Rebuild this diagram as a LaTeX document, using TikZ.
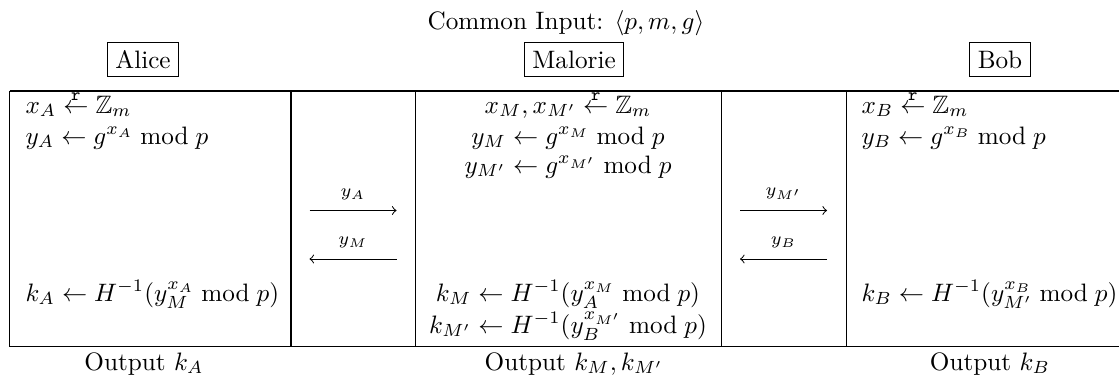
\documentclass[tikz,border=0pt]{standalone}
\usepackage{amsmath,amssymb}
\newcommand{\rndfrom}{\mathrel{\mathop{\leftarrow}\limits^{\raisebox{-2pt}{$\scriptstyle\mathtt{r}$}}}}
\tikzset{
  ltxt/.style={inner sep=0pt, anchor=base west},
  ctxt/.style={inner sep=0pt, anchor=base},
  party/.style={draw, line width=0.4pt, inner sep=3.2pt, anchor=base},
  tabrule/.style={line width=0.4pt},
  msg/.style={->, line width=0.4pt},
  msglbl/.style={above, inner sep=4pt}
}
\begin{document}
\begin{tikzpicture}[x=0.39683pt, y=-0.39683pt]
\useasboundingbox (0,0) rectangle (1119,379);
% header
\node[ctxt] (common) at (566,29) {Common Input: $\langle p, m, g\rangle$};
\node[party] (alice) at (143,68.3) {Alice};
\node[party] (malorie) at (574,68.3) {Malorie};
\node[party] (bob) at (1000,68.3) {Bob};
% table rules
\coordinate (tl) at (9.6,91);
\coordinate (tr) at (1119,91);
\coordinate (bl) at (9.6,346.7);
\coordinate (br) at (1119,346.7);
\coordinate (c1t) at (291,91);  \coordinate (c1b) at (291,346.7);
\coordinate (c2t) at (415,91);  \coordinate (c2b) at (415,346.7);
\coordinate (c3t) at (721,91);  \coordinate (c3b) at (721,346.7);
\coordinate (c4t) at (846,91);  \coordinate (c4b) at (846,346.7);
\draw[tabrule] (tl) -- (tr);
\draw[tabrule] (bl) -- (br);
\draw[tabrule] (tl) -- (bl);
\draw[tabrule] (c1t) -- (c1b);
\draw[tabrule] (c2t) -- (c2b);
\draw[tabrule] (c3t) -- (c3b);
\draw[tabrule] (c4t) -- (c4b);
% Alice column
\node[ltxt] (a1) at (25,113) {$x_A \rndfrom \mathbb{Z}_m$};
\node[ltxt] (a2) at (25,144) {$y_A \leftarrow g^{x_A} \bmod p$};
\node[ltxt] (a3) at (25,301) {$k_A \leftarrow H^{-1}(y_M^{x_A} \bmod p)$};
% Malorie column
\node[ctxt] (m1) at (568,113) {$x_M, x_{M'} \rndfrom \mathbb{Z}_m$};
\node[ctxt] (m2) at (568,144) {$y_M \leftarrow g^{x_M} \bmod p$};
\node[ctxt] (m3) at (568,173) {$y_{M'} \leftarrow g^{x_{M'}} \bmod p$};
\node[ctxt] (m4) at (568,301) {$k_M \leftarrow H^{-1}(y_A^{x_M} \bmod p)$};
\node[ctxt] (m5) at (568,333) {$k_{M'} \leftarrow H^{-1}(y_B^{x_{M'}} \bmod p)$};
% Bob column
\node[ltxt] (b1) at (861,113) {$x_B \rndfrom \mathbb{Z}_m$};
\node[ltxt] (b2) at (861,144) {$y_B \leftarrow g^{x_B} \bmod p$};
\node[ltxt] (b3) at (861,301) {$k_B \leftarrow H^{-1}(y_{M'}^{x_B} \bmod p)$};
% messages
\coordinate (p1l) at (309.5,210.5); \coordinate (p1r) at (396.5,210.5);
\coordinate (p2l) at (309.5,259);   \coordinate (p2r) at (396.5,259);
\coordinate (q1l) at (740,210.5);   \coordinate (q1r) at (827,210.5);
\coordinate (q2l) at (740,259);     \coordinate (q2r) at (827,259);
\draw[msg] (p1l) -- node[msglbl] (lya) {$\scriptstyle y_A$} (p1r);
\draw[msg] (p2r) -- node[msglbl] (lym) {$\scriptstyle y_M$} (p2l);
\draw[msg] (q1l) -- node[msglbl] (lymp) {$\scriptstyle y_{M'}$} (q1r);
\draw[msg] (q2r) -- node[msglbl] (lyb) {$\scriptstyle y_B$} (q2l);
% outputs
\node[ctxt] (oa) at (144,370) {Output $k_A$};
\node[ctxt] (om) at (574,370) {Output $k_M, k_{M'}$};
\node[ctxt] (ob) at (990,370) {Output $k_B$};
\end{tikzpicture}
\end{document}
